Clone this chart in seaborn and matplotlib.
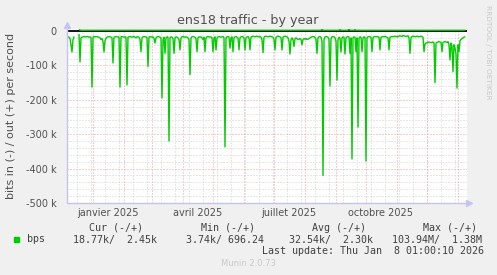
import numpy as np
import pandas as pd
import matplotlib
matplotlib.use("Agg")
import matplotlib.pyplot as plt
import seaborn as sns
from matplotlib.patches import Rectangle
from matplotlib.lines import Line2D

nan = np.nan

# ---------------- data (values in kbit/s, one per day) ----------------
start_date = "2024-12-05"
in_kbps = [
    -15, -16, -17, -18, -22, -40, -61, -25, -17, nan, nan, nan, nan, -10, -90, -20, -18, -17, -16, -17,
    -17, -16, -17, -18, -17, -20, -163, -18, -16, -17, -16, -17, -17, -18, -20, -25, -22, -30, -61, -28,
    -22, -18, -17, -16, -17, -18, -20, -93, -18, -17, -16, -17, -17, -18, -163, -17, -16, -17, -18, -17,
    -18, -157, -18, -17, -16, -17, -18, -17, -16, -18, -20, -17, -17, -18, -25, -60, -20, -17, -16, -17,
    -17, -20, -103, -18, -16, -17, -18, -17, -22, -35, -20, -17, -16, -17, -18, -20, -195, -25, -18, -65,
    -20, -17, -18, -320, -20, -17, -18, -22, -65, -20, -17, -18, -20, -25, -55, -20, -17, -16, -17, -18,
    -17, -18, -20, -25, -127, -20, -17, -16, -17, -18, -22, -60, -20, -17, -18, -17, -20, -25, -18, -60,
    -20, -17, -16, -17, -18, -17, -20, -60, -20, -17, -55, -20, -17, -16, -17, -18, -17, -16, -20, -337,
    -20, -17, -16, -18, -50, -20, -17, -60, -20, -17, -16, -18, -20, -55, -20, -17, -16, -17, -20, -55,
    -20, -17, -16, -20, -55, -18, -16, -15, -16, -17, -16, -15, -16, -17, -16, -18, -25, -63, -18, -16,
    -15, -16, -17, -16, -15, -16, -17, -18, -25, -55, -18, -16, -15, -16, -17, -20, -55, -18, -16, -15,
    -16, -17, -20, -30, -67, -25, -20, -25, -45, -22, -20, -22, -25, -24, -22, -25, -40, -25, -22, -24,
    -22, -25, -24, -22, -20, -18, -17, -16, -17, -18, -25, -65, -20, -17, -16, -18, -30, -420, -25, -17,
    -16, -17, -18, -25, -160, -22, -17, -16, -17, -20, -30, -143, -25, -18, -20, -61, -20, -17, -18, -67,
    -20, -17, -16, -18, -65, -20, -372, -20, -17, -18, -60, -20, -279, -22, -17, -18, -60, -20, -17, -18,
    -378, -20, -17, -16, -17, -18, -60, -20, -17, -16, -17, -16, -17, -18, -55, -18, -17, -16, -17, -16,
    -17, -18, -20, -55, -18, -17, -16, -17, -16, -15, -16, -17, -16, -15, -14, -15, -16, -13, -14, -15,
    -16, -15, -14, -20, -65, -20, -16, -15, -16, -17, -16, -15, -16, -17, -16, -15, -16, -18, -60, -38,
    -35, -34, -33, -32, -33, -34, -33, -32, -35, -150, -35, -33, -32, -31, -32, -33, -60, -33, -32, -31,
    -32, -33, -31, -40, -84, -35, -45, -118, -40, -50, -67, -166, -40, -60, -28, -25, -22, -20, -18, -17,
]
out_kbps = [
    nan, nan, nan, nan, nan, nan, nan, nan, nan, nan, nan, nan, nan, 7.0, 2.5, 2.3, 2.2, 2.3, 2.4, 2.3,
    2.3, 2.2, 2.3, 2.4, 2.3, 2.3, 2.2, 2.3, 2.4, 2.3, 2.3, 2.2, 2.3, 2.4, 2.3, 2.3, 2.2, 2.3, 2.4, 2.3,
    2.3, 2.2, 2.3, 2.4, 2.3, 2.3, 2.2, 2.3, 2.4, 2.3, 2.3, 2.2, 2.3, 2.4, 2.3, 2.3, 2.2, 2.3, 2.4, 2.3,
    2.3, 2.2, 2.3, 2.4, 2.3, 2.3, 2.2, 2.3, 2.4, 2.3, 2.3, 2.2, 2.3, 2.4, 2.3, 2.3, 2.2, 2.3, 2.4, 2.3,
    2.3, 2.2, 2.3, 2.4, 2.3, 2.3, 2.2, 2.3, 2.4, 2.3, 2.3, 2.2, 2.3, 2.4, 2.3, 2.3, 2.2, 2.3, 2.4, 2.3,
    2.3, 2.2, 2.3, 2.4, 2.3, 2.3, 2.2, 2.3, 2.4, 2.3, 2.3, 2.2, 2.3, 2.4, 2.3, 2.3, 2.2, 2.3, 2.4, 2.3,
    2.3, 2.2, 2.3, 2.4, 2.3, 2.3, 2.2, 2.3, 2.4, 2.3, 2.3, 2.2, 2.3, 2.4, 2.3, 2.3, 2.2, 2.3, 2.4, 2.3,
    2.3, 2.2, 2.3, 2.4, 2.3, 2.3, 2.2, 2.3, 2.4, 2.3, 2.3, 2.2, 2.3, 2.4, 2.3, 2.3, 2.2, 2.3, 2.4, 2.3,
    2.3, 2.2, 2.3, 2.4, 2.3, 2.3, 2.2, 2.3, 2.4, 2.3, 2.3, 2.2, 2.3, 2.4, 2.3, 2.3, 2.2, 2.3, 2.4, 2.3,
    2.3, 2.2, 2.3, 2.4, 2.3, 2.3, 2.2, 2.3, 2.4, 2.3, 2.3, 2.2, 2.3, 2.4, 2.3, 2.3, 2.2, 2.3, 2.4, 2.3,
    2.3, 2.2, 2.3, 2.4, 2.3, 2.3, 2.2, 2.3, 2.4, 2.3, 2.3, 2.2, 2.3, 2.4, 2.3, 2.3, 2.2, 2.3, 2.4, 2.3,
    2.3, 2.2, 2.3, 2.4, 2.3, 2.3, 2.2, 2.3, 2.4, 2.3, 2.3, 2.2, 2.3, 2.4, 2.3, 2.3, 2.2, 2.3, 2.4, 2.3,
    2.3, 2.2, 2.3, 2.4, 2.3, 2.3, 2.2, 2.3, 2.4, 2.3, 2.3, 2.2, 2.3, 2.4, 2.3, 2.3, 5.0, 2.3, 2.4, 2.3,
    2.3, 2.2, 2.3, 2.4, 2.3, 2.3, 2.2, 2.3, 2.4, 2.3, 2.3, 2.2, 2.3, 2.4, 4.0, 2.3, 2.2, 2.3, 2.4, 2.3,
    2.3, 2.2, 2.3, 8.0, 2.3, 2.3, 2.2, 2.3, 2.4, 4.0, 2.3, 2.2, 2.3, 2.4, 2.3, 2.3, 2.2, 2.3, 2.4, 2.3,
    2.3, 2.2, 2.3, 2.4, 2.3, 2.3, 2.2, 2.3, 2.4, 2.3, 2.3, 2.2, 2.3, 2.4, 2.3, 2.3, 2.2, 2.3, 2.4, 2.3,
    2.3, 2.2, 2.3, 2.4, 2.3, 2.3, 2.2, 2.3, 2.4, 2.3, 2.3, 2.2, 2.3, 2.4, 2.3, 2.3, 2.2, 2.3, 2.4, 2.3,
    2.3, 2.2, 2.3, 2.4, 2.3, 2.3, 2.2, 2.3, 2.4, 2.3, 2.3, 2.2, 2.3, 2.4, 2.3, 2.3, 2.2, 2.3, 2.4, 2.3,
    2.3, 2.2, 2.3, 2.4, 2.3, 2.3, 2.2, 2.3, 2.4, 2.3, 2.3, 2.2, 2.3, 2.4, 2.3, 2.3, 2.2, 2.3, 2.4, 2.3,
    2.3, 2.2, 2.3, 2.4, 2.3, 2.3, 2.2, 2.3, 2.4, 2.3, 2.3, 2.2, 2.3, 2.4, 2.3, 2.3, 2.2, 2.3, 2.4, 2.45,
]
ytick_values = [0, -100000, -200000, -300000, -400000, -500000]
ytick_labels = ["0", "-100 k", "-200 k", "-300 k", "-400 k", "-500 k"]
xtick_dates = ["2025-01-16", "2025-04-16", "2025-07-16", "2025-10-16"]
xtick_labels = ["janvier 2025", "avril 2025", "juillet 2025", "octobre 2025"]
legend_name = "bps"
legend_cur = "18.77k/  2.45k"
legend_min = "3.74k/ 696.24"
legend_avg = "32.54k/  2.30k"
legend_max = "103.94M/  1.38M"
last_update = "Last update: Thu Jan  8 01:00:10 2026"

# ---------------- styling ----------------
W, H = 497, 275
GREEN = "#00CC00"
TXT = "#505050"
BG = "#F0F0F0"
sns.set_style("white")
plt.rcParams["font.family"] = ["DejaVu Sans"]

def fx(x):
    return x / W

def fy(y):
    return 1 - y / H

fig = plt.figure(figsize=(W / 100, H / 100), dpi=100, facecolor=BG)
ax = fig.add_axes([fx(67), fy(203), 400 / W, (203 - 29) / H])
ax.set_facecolor("white")

dates = pd.date_range(start_date, periods=len(in_kbps), freq="D")

def frame(vals):
    s = pd.Series(np.array(vals, dtype=float) * 1000.0)
    seg = s.isna().cumsum()
    return pd.DataFrame({"date": dates, "bps": s, "seg": seg}).dropna()

df_in = frame(in_kbps)
df_out = frame(out_kbps)

xmin = pd.Timestamp("2024-12-06")
xmax = pd.Timestamp("2026-01-10")

# grid
minor_col = "#D0D0D0"
major_col = "#F0A0A0"
dot = (0, (1, 2))
for v in range(-480000, 0, 20000):
    if v % 100000 != 0:
        ax.axhline(v, color=minor_col, lw=0.72, ls=dot, zorder=0)
for v in ytick_values[1:-1]:
    ax.axhline(v, color=major_col, lw=0.72, ls=dot, zorder=0.5)
for d in pd.date_range("2024-12-16", "2026-01-10", freq="14D"):
    ax.axvline(d, color=minor_col, lw=0.72, ls=dot, zorder=0)
for d in pd.date_range("2025-01-01", "2026-01-10", freq="MS"):
    ax.axvline(d, color=major_col, lw=0.72, ls=dot, zorder=0.5)

ax.axhline(0, color="black", lw=1.3, zorder=2)
sns.lineplot(data=df_in, x="date", y="bps", units="seg", estimator=None,
             color=GREEN, lw=1.0, ax=ax, zorder=3)
sns.lineplot(data=df_out, x="date", y="bps", units="seg", estimator=None,
             color=GREEN, lw=1.0, ax=ax, zorder=3)

ax.set_xlim(xmin, xmax)
ax.set_ylim(-500000, 5800)
ax.set_yticks(ytick_values)
ax.set_yticklabels(ytick_labels)
ax.set_xticks(pd.to_datetime(xtick_dates))
ax.set_xticklabels(xtick_labels)
ax.tick_params(axis="both", length=0, labelsize=7, labelcolor=TXT)
ax.tick_params(axis="y", pad=7.5)
ax.tick_params(axis="x", pad=3.5)
ax.set_xlabel("")
ax.set_ylabel("")
for sp in ax.spines.values():
    sp.set_visible(False)

# axes lines with arrows
axcol = "#C4C4F0"
fig.add_artist(Line2D([fx(67), fx(67)], [fy(203), fy(26)], color=axcol, lw=1.0,
                      transform=fig.transFigure))
fig.add_artist(Line2D([fx(67), fx(468)], [fy(203), fy(203)], color=axcol, lw=1.0,
                      transform=fig.transFigure))
fig.add_artist(Line2D([fx(67)], [fy(25)], marker="^", markersize=3.8, color=axcol,
                      lw=0, transform=fig.transFigure))
fig.add_artist(Line2D([fx(469)], [fy(203)], marker=">", markersize=3.8, color=axcol,
                      lw=0, transform=fig.transFigure))

# texts
fig.text(fx(248), fy(24), "ens18 traffic - by year", ha="center", va="baseline",
         fontsize=9.2, color=TXT)
fig.text(fx(11), fy(116), "bits in (-) / out (+) per second", rotation=90,
         ha="center", va="center", fontsize=8, color=TXT)
fig.text(fx(488), fy(5), "RRDTOOL / TOBI OETIKER", rotation=270, ha="center",
         va="top", fontsize=5.3, color="#C8C8C8")

mono = dict(family="DejaVu Sans Mono", fontsize=7.2, color="#404040", va="center")
fig.text(fx(89), fy(228), "Cur (-/+)", **mono)
fig.text(fx(201), fy(228), "Min (-/+)", **mono)
fig.text(fx(312), fy(228), "Avg (-/+)", **mono)
fig.text(fx(423), fy(228), "Max (-/+)", **mono)
fig.add_artist(Rectangle((fx(14), fy(242)), 5 / W, 5 / H, color=GREEN,
                         transform=fig.transFigure))
fig.text(fx(27), fy(239.5), legend_name, **mono)
fig.text(fx(73), fy(239.5), legend_cur, **mono)
fig.text(fx(186), fy(239.5), legend_min, **mono)
fig.text(fx(289), fy(239.5), legend_avg, **mono)
fig.text(fx(392), fy(239.5), legend_max, **mono)
fig.text(fx(262), fy(251), last_update, **mono)
fig.text(fx(248), fy(264), "Munin 2.0.73", ha="center", va="center",
         fontsize=6, color="#C8C8C8")

fig.savefig("out.png", dpi=100, facecolor=BG)
